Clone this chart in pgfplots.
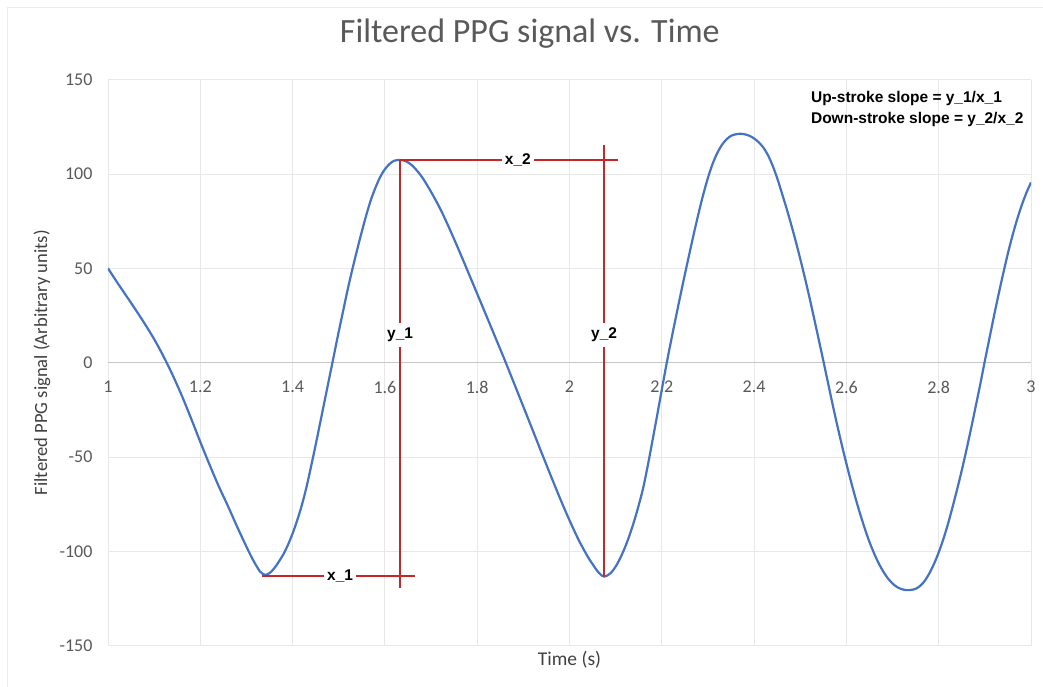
\documentclass[border=0pt]{standalone}
\usepackage{pgfplots}
\pgfplotsset{compat=1.18}
\usepackage{fontspec}
\setmainfont{Carlito}
\newfontfamily\arial{Liberation Sans}
\definecolor{excelblue}{HTML}{4472C4}
\definecolor{exred}{HTML}{C62828}
\definecolor{txt}{HTML}{595959}
\definecolor{lbl}{HTML}{404040}
\begin{document}
\begin{tikzpicture}
\path[use as bounding box] (-108pt,-41.2pt) rectangle (935pt,645.8pt);
\draw[gray!14, line width=0.8pt] (-101pt,-41.2pt) -- (-101pt,638.8pt) -- (935pt,638.8pt);
\begin{axis}[
  scale only axis, width=923pt, height=566.2pt,
  xmin=1, xmax=3, ymin=-150, ymax=150,
  xtick={1,1.2,1.4,1.6,1.8,2,2.2,2.4,2.6,2.8,3},
  ytick={-150,-100,-50,0,50,100,150},
  axis x line=middle, axis y line=left,
  x axis line style={-, draw=gray!45, line width=1pt},
  y axis line style={draw=none},
  grid=major, major grid style={draw=gray!18, line width=0.9pt},
  major tick length=0pt,
  hide obscured x ticks=false, hide obscured y ticks=false,
  /pgf/number format/assume math mode=true,
  xticklabel style={font=\fontsize{18}{18}\selectfont, text=txt, anchor=north, yshift=-15pt},
  yticklabel style={font=\fontsize{18}{18}\selectfont, text=txt, anchor=east, xshift=-12pt},
  xlabel={Time (s)}, ylabel={Filtered PPG signal (Arbitrary units)},
  xlabel style={at={(axis description cs:0.5,-0.0251)}, anchor=center, font=\fontsize{19.5}{19.5}\selectfont, text=lbl},
  ylabel style={at={(axis description cs:-0.0715,0.5)}, anchor=center, font=\fontsize{18.6}{18.6}\selectfont, text=lbl},
  title={Filtered PPG signal vs. Time},
  title style={at={(axis description cs:0.457,1.0706)}, anchor=center, font=\fontsize{34}{34}\selectfont, text=txt},
]
\addplot[excelblue, line width=2.2pt, smooth] coordinates {
(1.00,50) (1.02,42.5) (1.04,35.3) (1.06,28) (1.08,20.5) (1.10,12.5) (1.12,3.5)
(1.14,-6.5) (1.16,-17.5) (1.18,-29.5) (1.20,-42) (1.22,-54) (1.24,-65.5) (1.26,-76)
(1.28,-87) (1.30,-97.5) (1.31,-102.5) (1.32,-107) (1.33,-110.8) (1.34,-112.4)
(1.35,-111.5) (1.36,-109) (1.37,-105.5) (1.38,-101.5) (1.39,-96.5) (1.40,-90.5)
(1.41,-83.5) (1.42,-75.5) (1.43,-66) (1.44,-55) (1.45,-43.5) (1.46,-31.5) (1.47,-19.5)
(1.48,-7.5) (1.49,4.5) (1.50,16.5) (1.51,28) (1.52,39.5) (1.53,50) (1.54,60)
(1.55,69.5) (1.56,78.5) (1.57,86.5) (1.58,93) (1.59,98.5) (1.60,102.5) (1.61,105.3)
(1.62,107) (1.633,107.4) (1.645,106.8) (1.66,104.3) (1.68,98.5) (1.70,90.5) (1.72,81.5)
(1.74,71) (1.76,59.8) (1.78,48.2) (1.80,36.5) (1.82,24.8) (1.84,13) (1.86,1.2)
(1.88,-11) (1.90,-23.3) (1.92,-35.6) (1.94,-48) (1.96,-60.2) (1.98,-72.2) (2.00,-83.5)
(2.02,-94) (2.04,-103) (2.05,-106.7) (2.06,-110.3) (2.07,-112.8) (2.075,-113.3)
(2.08,-113) (2.09,-111.3) (2.10,-108) (2.11,-103.5) (2.12,-98) (2.13,-91.5) (2.14,-84)
(2.15,-75.5) (2.16,-66) (2.17,-54) (2.18,-41) (2.19,-27.8) (2.20,-14.3) (2.21,-1)
(2.22,11.5) (2.23,23.5) (2.24,35.3) (2.25,46.8) (2.26,58) (2.27,69) (2.28,79.5)
(2.29,89.3) (2.30,98) (2.31,105.3) (2.32,111) (2.33,115.3) (2.34,118.3) (2.35,120.2)
(2.36,121) (2.37,121.3) (2.38,121) (2.39,120.2) (2.40,118.8) (2.41,116.8) (2.42,114)
(2.43,110) (2.44,104.5) (2.45,97.8) (2.46,90) (2.47,82) (2.48,73.5) (2.49,64.5)
(2.50,55) (2.51,45) (2.52,34.5) (2.53,23.5) (2.54,12.3) (2.55,1) (2.56,-10.5)
(2.57,-22) (2.58,-33) (2.59,-43.5) (2.60,-53.5) (2.61,-63) (2.62,-72) (2.63,-80.3)
(2.64,-88) (2.65,-95) (2.66,-101) (2.67,-106.3) (2.68,-110.7) (2.69,-114.3) (2.70,-117)
(2.71,-118.9) (2.72,-120) (2.73,-120.5) (2.74,-120.4) (2.75,-119.8) (2.76,-118.2)
(2.77,-115.5) (2.78,-111.5) (2.79,-106.5) (2.80,-100.5) (2.81,-93.5) (2.82,-85.5)
(2.83,-76.5) (2.84,-67) (2.85,-57) (2.86,-46.3) (2.87,-35) (2.88,-23.3) (2.89,-11.5)
(2.90,1) (2.91,13) (2.92,25) (2.93,36.5) (2.94,47.5) (2.95,58) (2.96,67.5) (2.97,76)
(2.98,83.5) (2.99,90) (3.00,95.5)
};
\addplot[exred, line width=1.4pt] coordinates {(1.334,-113) (1.665,-113)};
\addplot[exred, line width=1.4pt] coordinates {(1.633,107.4) (1.633,-119.3)};
\addplot[exred, line width=1.4pt] coordinates {(1.633,107.4) (2.106,107.4)};
\addplot[exred, line width=1.4pt] coordinates {(2.075,115.3) (2.075,-113.3)};
\node[fill=white, inner xsep=3pt, inner ysep=1pt, font=\arial\bfseries\fontsize{15.5}{15.5}\selectfont] at (axis cs:1.503,-113) {x\_1};
\node[fill=white, inner xsep=3pt, inner ysep=1pt, font=\arial\bfseries\fontsize{15.5}{15.5}\selectfont] at (axis cs:1.888,107.4) {x\_2};
\node[fill=white, inner xsep=1pt, inner ysep=5pt, font=\arial\bfseries\fontsize{15.5}{15.5}\selectfont] at (axis cs:1.633,14.6) {y\_1};
\node[fill=white, inner xsep=1pt, inner ysep=5pt, font=\arial\bfseries\fontsize{15.5}{15.5}\selectfont] at (axis cs:2.075,14.6) {y\_2};
\node[anchor=north west, align=left, inner sep=0pt, font=\arial\bfseries\fontsize{15.5}{21}\selectfont] at (axis cs:2.523,143.8) {Up-stroke slope = y\_1/x\_1\\Down-stroke slope = y\_2/x\_2};
\end{axis}
\end{tikzpicture}
\end{document}
